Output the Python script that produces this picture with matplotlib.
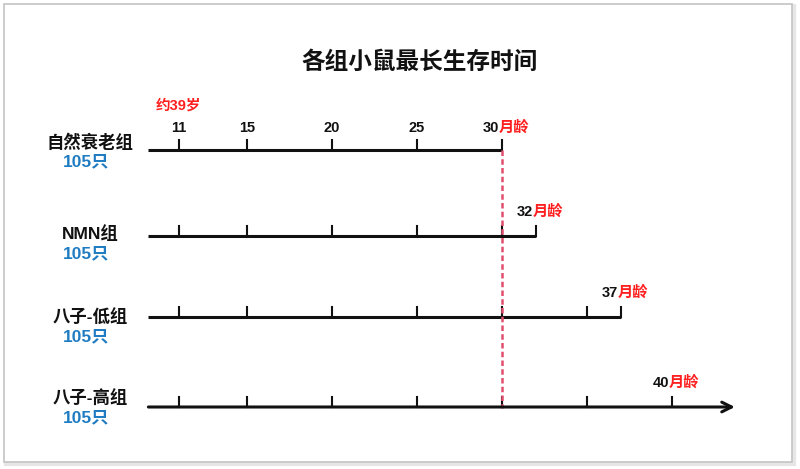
import matplotlib.pyplot as plt
from matplotlib.patches import Rectangle

plt.rcParams['font.family'] = ['Liberation Sans', 'Noto Sans CJK SC', 'DejaVu Sans']

# data
title = '各组小鼠最长生存时间'
groups = ['自然衰老组', 'NMN组', '八子-低组', '八子-高组']
counts = [105, 105, 105, 105]
max_months = [30, 32, 37, 40]
tick_months = [11, 15, 20, 25, 30, 35, 40]
baseline_months = 30
age_note = '约39岁'
axis_start = 9.2
arrow_end = 43.7

# layout (pixels in the 800x469 picture)
W, H = 800, 469
row_px = [150, 236, 317, 407]
label_dy = [8, 2, 0, 9]
px_per_month = 17.0
x0_px = 502 - baseline_months * px_per_month

BLACK = '#111111'
RED = '#ff1f1f'
BLUE = '#1f7cc2'
DASH = '#e0506e'
PT = 0.72  # points per pixel at dpi 100

fig = plt.figure(figsize=(W / 100, H / 100), dpi=100)
ax = fig.add_axes([0, 0, 1, 1])
ax.patch.set_alpha(0)
ax.set_xlim(-x0_px / px_per_month, (W - x0_px) / px_per_month)
ax.set_ylim(H, 0)
ax.axis('off')

# frame with light shadow
fig.patches.append(Rectangle((6 / W, 1 - 464 / H), 788 / W, 458 / H, transform=fig.transFigure,
                             facecolor='none', edgecolor='#e6e6e6', lw=3, zorder=-10))
fig.patches.append(Rectangle((4 / W, 1 - 462 / H), 788 / W, 458 / H, transform=fig.transFigure,
                             facecolor='white', edgecolor='#c4c4c4', lw=1.2, zorder=-9))

fig.text(420 / W, 1 - 62 / H, title, ha='center', va='center', fontsize=17, fontweight='heavy',
         color=BLACK)

tick_len = 10
for i, (name, n, mx) in enumerate(zip(groups, counts, max_months)):
    y = row_px[i]
    last = i == len(groups) - 1
    if last:
        ax.annotate('', xy=(arrow_end, y), xytext=(axis_start, y),
                    arrowprops=dict(arrowstyle='->,head_length=0.7,head_width=0.35', lw=2.2,
                                    color=BLACK, shrinkA=0, shrinkB=0))
    else:
        ax.plot([axis_start, mx], [y, y], color=BLACK, lw=2.2, solid_capstyle='butt')
    ticks = [t for t in tick_months if t <= mx]
    if mx not in ticks:
        ticks.append(mx)
    for t in ticks:
        ax.plot([t, t], [y, y - tick_len], color=BLACK, lw=1.5)

    # group name and count
    fig.text(90 / W, 1 - (y - label_dy[i]) / H, name, ha='center', va='center', fontsize=12.5,
             fontweight='bold', color=BLACK)
    fig.text(86 / W, 1 - (y - label_dy[i] + 20) / H, f'{n}只', ha='center', va='center',
             fontsize=12.5, fontweight='bold', color=BLUE)

    # max survival label
    dy = 22 if i == 0 else 24
    ax.annotate(str(mx), (mx, y), xytext=(-3 * PT, dy * PT), textcoords='offset points',
                ha='right', va='center', fontsize=10.5, fontweight='bold', color=BLACK)
    ax.annotate('月龄', (mx, y), xytext=(-3 * PT, dy * PT), textcoords='offset points',
                ha='left', va='center', fontsize=11, fontweight='bold', color=RED)

# tick labels above the first row
for t in tick_months:
    if t < max_months[0]:
        ax.annotate(str(t), (t, row_px[0]), xytext=(0, 22 * PT), textcoords='offset points',
                    ha='center', va='center', fontsize=10.5, fontweight='bold', color=BLACK)
ax.annotate(age_note, (tick_months[0], row_px[0]), xytext=(-1 * PT, 44 * PT),
            textcoords='offset points', ha='center', va='center', fontsize=10.5,
            fontweight='bold', color=RED)

# baseline dashed line
ax.plot([baseline_months, baseline_months], [row_px[0], row_px[-1] + 1], color=DASH, lw=1.8,
        dashes=(2.2, 1.3))

fig.savefig('out.png', dpi=100)
